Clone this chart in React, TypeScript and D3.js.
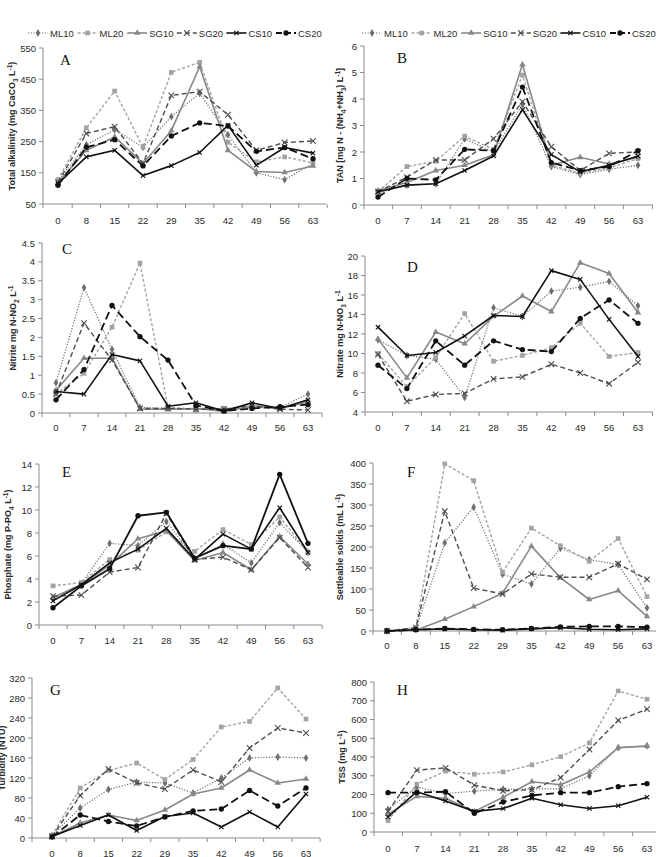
import * as d3 from "d3";

const daysA = [0, 8, 15, 22, 29, 35, 42, 49, 56, 63];
const daysB = [0, 7, 14, 21, 28, 35, 42, 49, 56, 63];
const treatments = ["ML10", "ML20", "SG10", "SG20", "CS10", "CS20"];

// each table: one row per treatment, same order as `treatments`
const alkalinity = [
  [122, 240, 288, 232, 330, 405, 272, 150, 128, 180],
  [128, 294, 412, 232, 472, 504, 248, 185, 201, 182],
  [118, 222, 265, 180, 285, 490, 222, 154, 151, 172],
  [120, 276, 298, 180, 398, 410, 336, 222, 247, 252],
  [115, 201, 222, 141, 173, 215, 302, 174, 231, 213],
  [110, 232, 256, 172, 268, 310, 300, 219, 231, 195],
];
const tan = [
  [0.45, 0.75, 0.8, 2.5, 2.0, 3.8, 1.45, 1.15, 1.35, 1.5],
  [0.5, 1.45, 1.65, 2.6, 2.1, 4.9, 1.5, 1.2, 1.4, 1.75],
  [0.55, 0.85, 1.3, 1.5, 1.9, 5.3, 1.5, 1.8, 1.55, 1.8],
  [0.5, 1.05, 1.7, 1.7, 2.5, 3.9, 2.2, 1.3, 1.95, 2.0],
  [0.5, 0.75, 0.8, 1.3, 1.85, 3.6, 1.9, 1.25, 1.5, 1.85],
  [0.3, 1.0, 0.95, 2.1, 2.05, 4.45, 1.6, 1.3, 1.45, 2.05],
];
const nitrite = [
  [0.8, 3.32, 1.68, 0.15, 0.12, 0.1, 0.1, 0.2, 0.15, 0.5],
  [0.5, 1.05, 2.27, 3.97, 0.15, 0.1, 0.12, 0.15, 0.12, 0.3],
  [0.6, 1.45, 1.45, 0.1, 0.1, 0.12, 0.05, 0.18, 0.12, 0.3],
  [0.5, 2.38, 1.4, 0.12, 0.12, 0.1, 0.1, 0.2, 0.1, 0.08],
  [0.57, 0.5, 1.55, 1.38, 0.18, 0.27, 0.05, 0.27, 0.12, 0.35],
  [0.35, 1.15, 2.85, 2.02, 1.4, 0.2, 0.05, 0.12, 0.17, 0.22],
];
const nitrate = [
  [11.4, 9.8, 9.4, 5.5, 14.7, 13.8, 16.4, 16.8, 17.4, 14.9],
  [10.0, 6.6, 9.6, 14.1, 9.2, 9.8, 10.6, 13.1, 9.7, 10.1],
  [11.5, 7.5, 12.2, 11.0, 13.8, 15.9, 14.3, 19.3, 18.2, 14.2],
  [9.9, 5.1, 5.8, 5.9, 7.4, 7.6, 8.9, 8.0, 6.9, 9.1],
  [12.7, 9.8, 10.1, 11.8, 13.9, 13.8, 18.5, 17.6, 13.5, 9.7],
  [8.8, 6.4, 11.3, 8.8, 11.3, 10.4, 10.2, 13.6, 15.5, 13.1],
];
const phosphate = [
  [2.3, 3.6, 7.1, 6.9, 9.0, 5.8, 7.0, 5.4, 8.9, 6.3],
  [3.4, 3.7, 5.7, 6.5, 8.1, 6.4, 8.3, 7.0, 9.4, 6.3],
  [2.4, 3.5, 5.2, 7.5, 8.2, 5.6, 6.3, 4.8, 7.7, 5.3],
  [2.5, 2.6, 4.6, 5.0, 9.7, 5.7, 5.9, 4.8, 7.6, 5.0],
  [2.1, 3.5, 5.4, 6.6, 8.4, 5.7, 7.9, 6.6, 10.2, 6.3],
  [1.5, 3.4, 4.9, 9.5, 9.8, 5.8, 6.9, 6.6, 13.1, 7.1],
];
const settleable = [
  [0, 5, 210, 295, 135, 112, 197, 170, 158, 55],
  [0, 8, 398, 358, 140, 245, 203, 166, 220, 82],
  [0, 2, 28, 58, 90, 202, 127, 75, 96, 35],
  [0, 8, 285, 102, 88, 136, 128, 128, 160, 123],
  [0, 3, 5, 3, 2, 5, 8, 4, 3, 5],
  [0, 3, 6, 4, 3, 6, 10, 11, 11, 9],
];
const turbidity = [
  [5, 60, 97, 112, 110, 90, 120, 160, 162, 160],
  [5, 100, 135, 150, 117, 157, 222, 233, 300, 238],
  [3, 30, 46, 35, 56, 88, 100, 136, 110, 118],
  [3, 85, 138, 110, 98, 136, 112, 180, 220, 210],
  [3, 25, 46, 15, 43, 50, 22, 52, 22, 88],
  [2, 46, 33, 24, 42, 54, 58, 95, 64, 100],
];
const tss = [
  [120, 240, 205, 218, 228, 230, 230, 300, 450, 460],
  [60, 255, 325, 308, 320, 358, 402, 475, 752, 708],
  [95, 190, 180, 110, 185, 268, 252, 320, 450, 458],
  [110, 330, 342, 250, 220, 225, 290, 440, 595, 655],
  [80, 215, 165, 110, 125, 180, 145, 125, 140, 185],
  [210, 210, 215, 100, 160, 195, 210, 210, 242, 258],
];

type Part = [string, string];
const titleA: Part[] = [["Total alkalinity (mg CaCO", ""], ["3", "sub"], [" L", ""], ["-1", "sup"], [")", ""]];
const titleB: Part[] = [["TAN [mg N - (NH", ""], ["4", "sub"], ["+NH", ""], ["3", "sub"], [") L", ""], ["-1", "sup"], ["]", ""]];
const titleC: Part[] = [["Nitrite mg N-NO", ""], ["2", "sub"], [" L", ""], ["-1", "sup"]];
const titleD: Part[] = [["Nitrate mg N-NO", ""], ["3", "sub"], [" L", ""], ["-1", "sup"]];
const titleE: Part[] = [["Phosphate (mg P-PO", ""], ["4", "sub"], [" L", ""], ["-1", "sup"], [")", ""]];
const titleF: Part[] = [["Settleable solids (mL L", ""], ["-1", "sup"], [")", ""]];
const titleG: Part[] = [["Turbidity (NTU)", ""]];
const titleH: Part[] = [["TSS (mg L", ""], ["-1", "sup"], [")", ""]];

const panels = [
  { key: "A", days: daysA, values: alkalinity, domain: [50, 550], step: 100, title: titleA, legend: true },
  { key: "B", days: daysB, values: tan, domain: [0, 6], step: 1, title: titleB, legend: true },
  { key: "C", days: daysB, values: nitrite, domain: [0, 4.5], step: 0.5, title: titleC },
  { key: "D", days: daysB, values: nitrate, domain: [4, 20], step: 2, title: titleD },
  { key: "E", days: daysB, values: phosphate, domain: [0, 14], step: 2, title: titleE, solidCS20: true },
  { key: "F", days: daysA, values: settleable, domain: [0, 400], step: 50, title: titleF },
  { key: "G", days: daysA, values: turbidity, domain: [0, 320], step: 40, title: titleG },
  { key: "H", days: daysB, values: tss, domain: [0, 800], step: 100, title: titleH },
];

// plot boxes in page pixels
const layout: Record<string, any> = {
  A: { left: 43, right: 326, top: 48, bottom: 204, x0: 58, x1: 313, tickY: 220, letter: [60, 65], titleX: 12 },
  B: { left: 364, right: 653, top: 46, bottom: 205, x0: 378, x1: 638, tickY: 220, letter: [397, 63], titleX: 340 },
  C: { left: 42, right: 322, top: 243, bottom: 413, x0: 56, x1: 308, tickY: 427, letter: [62, 254], titleX: 13 },
  D: { left: 365, right: 653, top: 256, bottom: 412, x0: 378, x1: 638, tickY: 427, letter: [407, 272], titleX: 340 },
  E: { left: 39, right: 322, top: 464, bottom: 625, x0: 53, x1: 308, tickY: 640, letter: [62, 477], titleX: 8 },
  F: { left: 373, right: 662, top: 463, bottom: 631, x0: 387, x1: 647, tickY: 645, letter: [407, 477], titleX: 340 },
  G: { left: 32, right: 320, top: 678, bottom: 838, x0: 52, x1: 306, tickY: 853, letter: [50, 695], titleX: 2 },
  H: { left: 374, right: 656, top: 682, bottom: 832, x0: 388, x1: 647, tickY: 848, letter: [397, 695], titleX: 342 },
};

const styles: Record<string, any> = {
  ML10: { color: "#6e6e6e", dash: "1.2,1.6", width: 1.2, symbol: d3.symbolDiamond, size: 18, stroke: false },
  ML20: { color: "#a3a3a3", dash: "3,2", width: 1.4, symbol: d3.symbolSquare, size: 22, stroke: false },
  SG10: { color: "#888888", dash: null, width: 1.6, symbol: d3.symbolTriangle, size: 18, stroke: false },
  SG20: { color: "#4d4d4d", dash: "5,3", width: 1.4, symbol: d3.symbolX, size: 22, stroke: true },
  CS10: { color: "#111111", dash: null, width: 1.6, symbol: d3.symbolX, size: 14, stroke: true },
  CS20: { color: "#111111", dash: "8,4", width: 1.8, symbol: d3.symbolCircle, size: 22, stroke: false },
};

const FONT = "'Liberation Sans', Arial, sans-serif";
const AXIS = "#8c8c8c";
const TEXT = "#2a2a2a";

function Marker({ name, x, y }: { name: string; x: number; y: number }) {
  const s = styles[name];
  const d = d3.symbol().type(s.symbol).size(s.size)() || "";
  return s.stroke ? (
    <path d={d} transform={`translate(${x},${y})`} fill="none" stroke={s.color} strokeWidth={1.1} />
  ) : (
    <path d={d} transform={`translate(${x},${y})`} fill={s.color} />
  );
}

function Title({ parts, x, y }: { parts: Part[]; x: number; y: number }) {
  let shift = 0;
  return (
    <text
      transform={`translate(${x},${y}) rotate(-90)`}
      textAnchor="middle"
      dominantBaseline="central"
      fontFamily={FONT}
      fontWeight="bold"
      fontSize={9}
      fill={TEXT}
    >
      {parts.map(([t, k], i) => {
        const target = k === "sub" ? 2.5 : k === "sup" ? -3 : 0;
        const dy = target - shift;
        shift = target;
        return (
          <tspan key={i} dy={dy} fontSize={k ? 6.5 : 9}>
            {t}
          </tspan>
        );
      })}
    </text>
  );
}

function Legend({ x, y }: { x: number; y: number }) {
  return (
    <g>
      {treatments.map((name, i) => {
        const s = styles[name];
        const lx = x + i * 49.6;
        return (
          <g key={name}>
            <line x1={lx} x2={lx + 20} y1={y} y2={y} stroke={s.color} strokeWidth={s.width}
              strokeDasharray={s.dash ? (name === "CS20" ? "6,3" : s.dash) : undefined} />
            <Marker name={name} x={lx + 10} y={y} />
            <text x={lx + 22} y={y} dominantBaseline="central" fontFamily={FONT} fontSize={9.5} fill={TEXT}>
              {name}
            </text>
          </g>
        );
      })}
    </g>
  );
}

function Panel({ p }: { p: (typeof panels)[number] }) {
  const L = layout[p.key];
  const x = d3.scalePoint<number>().domain(p.days).range([L.x0, L.x1]);
  const y = d3.scaleLinear().domain(p.domain).range([L.bottom, L.top]);
  const yTicks = d3.range(p.domain[0], p.domain[1] + p.step / 2, p.step);
  const stepX = x.step();
  const xTicks = [L.left, ...d3.range(1, p.days.length).map((i) => L.x0 + (i - 0.5) * stepX), L.x1 + stepX / 2];
  const line = d3
    .line<number>()
    .x((_, i) => x(p.days[i]) as number)
    .y((v) => y(v));

  return (
    <g>
      {/* axes */}
      <line x1={L.left} x2={L.left} y1={L.top} y2={L.bottom} stroke={AXIS} />
      <line x1={L.left} x2={L.right} y1={L.bottom} y2={L.bottom} stroke={AXIS} />
      {yTicks.map((t) => (
        <g key={t}>
          <line x1={L.left - 4} x2={L.left} y1={y(t)} y2={y(t)} stroke={AXIS} />
          <text x={L.left - 7} y={y(t)} textAnchor="end" dominantBaseline="central" fontFamily={FONT} fontSize={9.5} fill={TEXT}>
            {String(t)}
          </text>
        </g>
      ))}
      {xTicks.map((t, i) => (
        <line key={i} x1={t} x2={t} y1={L.bottom} y2={L.bottom + 4} stroke={AXIS} />
      ))}
      {p.days.map((d) => (
        <text key={d} x={x(d)} y={L.tickY} textAnchor="middle" dominantBaseline="central" fontFamily={FONT} fontSize={9.5} fill={TEXT}>
          {d}
        </text>
      ))}

      {/* series */}
      {treatments.map((name, si) => {
        const s = styles[name];
        const dash = name === "CS20" && p.solidCS20 ? undefined : s.dash || undefined;
        return (
          <g key={name}>
            <path d={line(p.values[si]) || ""} fill="none" stroke={s.color} strokeWidth={s.width} strokeDasharray={dash} strokeLinejoin="round" />
            {p.values[si].map((v, i) => (
              <Marker key={i} name={name} x={x(p.days[i]) as number} y={y(v)} />
            ))}
          </g>
        );
      })}

      <text x={L.letter[0]} y={L.letter[1]} fontFamily="'Liberation Serif', 'Times New Roman', serif" fontSize={15} fill="#111">
        {p.key}
      </text>
      <Title parts={p.title} x={L.titleX} y={(L.top + L.bottom) / 2} />
      {p.legend && <Legend x={p.key === "A" ? 28 : 362} y={33} />}
    </g>
  );
}

export default function App() {
  return (
    <svg
      width={656}
      height={857}
      style={{ position: "absolute", left: 0, top: 0, background: "#fff" }}
    >
      {panels.map((p) => (
        <Panel key={p.key} p={p} />
      ))}
    </svg>
  );
}
